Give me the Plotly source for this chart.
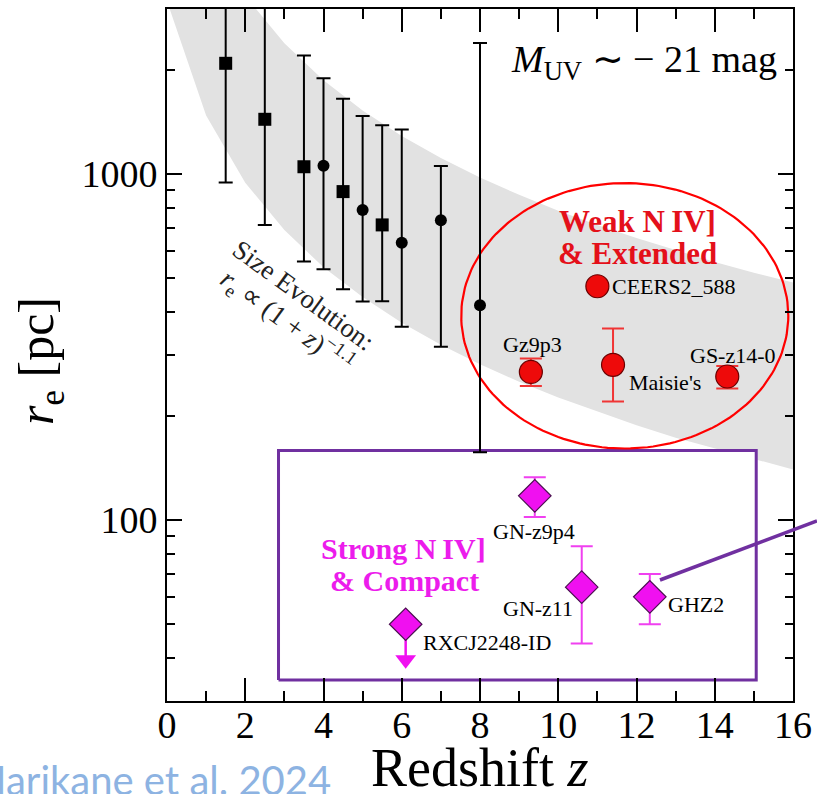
import plotly.graph_objects as go
import numpy as np

# ---------------- data ----------------
# black reference points (M_UV ~ -21 size evolution)
sq_z = [1.5, 2.5, 3.5, 4.5, 5.5]
sq_r = [2090, 1440, 1050, 890, 713]
sq_hi = [4000, 3800, 2200, 1650, 1385]
sq_lo = [946, 713, 559, 465, 429]

ci_z = [4.0, 5.0, 6.0, 7.0, 8.0]
ci_r = [1057, 787, 633, 736, 418]
ci_hi = [1893, 1471, 1346, 1055, 2393]
ci_lo = [531, 428, 362, 317, 157]

# weak N IV] & extended (red)
red_names = ["CEERS2_588", "Gz9p3", "Maisie's", "GS-z14-0"]
red_z = [11.0, 9.3, 11.4, 14.32]
red_r = [474, 268, 281, 260]
red_hi = [474, 293, 358, 279]
red_lo = [474, 244, 220, 240]

# strong N IV] & compact (magenta)
mag_names = ["GN-z9p4", "GN-z11", "GHZ2"]
mag_z = [9.4, 10.6, 12.34]
mag_r = [117.5, 64, 60]
mag_hi = [133, 84, 69.8]
mag_lo = [102, 44, 50]

# upper limit
lim_name = "RXCJ2248-ID"
lim_z = 6.1
lim_r = 50

# size-evolution band r_e ∝ (1+z)^-1.1 (edges)
band_z = [0, 1, 2, 3, 4, 5, 6, 7, 8, 9, 10, 11, 12, 13, 14, 15, 16]
band_hi = [10965, 5117, 3273, 2388, 1866, 1527, 1289, 1113, 977, 871, 784, 713, 653, 602, 557, 519, 486]
band_lo = [3162, 1476, 944, 689, 538, 441, 372, 321, 282, 251, 226, 206, 188, 173, 161, 150, 140]

x_ticks = [0, 2, 4, 6, 8, 10, 12, 14, 16]
y_ticks = [100, 1000]
y_minor = [30, 40, 50, 60, 70, 80, 90, 200, 300, 400, 500, 600, 700, 800, 900, 2000, 3000]

# ---------------- style ----------------
SERIF = "Liberation Serif"
RED = "#EE0A0A"
MAG = "#F010F0"
PURPLE = "#7030A0"
W, H = 817, 794
L, R, T, B = 167, 24, 9, 93
PW, PH = W - L - R, H - T - B


def paper(px, py):
    return (px - L) / PW, (H - B - py) / PH


fig = go.Figure()

# band
fig.add_trace(go.Scatter(
    x=band_z + band_z[::-1], y=band_hi + band_lo[::-1],
    fill="toself", fillcolor="#E2E2E2", line=dict(width=0),
    mode="lines", hoverinfo="skip", showlegend=False))

# purple box (white filled)
bx0, bx1, by0, by1 = 2.85, 15.06, 34.5, 159
fig.add_trace(go.Scatter(
    x=[bx0, bx1, bx1, bx0, bx0], y=[by0, by0, by1, by1, by0],
    fill="toself", fillcolor="white", mode="lines",
    line=dict(color=PURPLE, width=3), hoverinfo="skip", showlegend=False))

# red ellipse outline (in z / log r space)
ex0, ex1, ey0, ey1 = 7.52, 15.88, np.log10(161), np.log10(942)
t = np.linspace(0, 2 * np.pi, 181)
fig.add_trace(go.Scatter(
    x=(ex0 + ex1) / 2 + (ex1 - ex0) / 2 * np.cos(t),
    y=10 ** ((ey0 + ey1) / 2 + (ey1 - ey0) / 2 * np.sin(t)),
    mode="lines", line=dict(color="#FF0000", width=2.2),
    hoverinfo="skip", showlegend=False))


def err(vals, hi, lo):
    return ([h - v for v, h in zip(vals, hi)], [v - l for v, l in zip(vals, lo)])


up, dn = err(sq_r, sq_hi, sq_lo)
fig.add_trace(go.Scatter(
    x=sq_z, y=sq_r, mode="markers",
    marker=dict(symbol="square", size=13, color="black"),
    error_y=dict(type="data", symmetric=False, array=up, arrayminus=dn,
                 color="black", thickness=2, width=7),
    showlegend=False))

up, dn = err(ci_r, ci_hi, ci_lo)
fig.add_trace(go.Scatter(
    x=ci_z, y=ci_r, mode="markers",
    marker=dict(symbol="circle", size=12, color="black"),
    error_y=dict(type="data", symmetric=False, array=up, arrayminus=dn,
                 color="black", thickness=2, width=7),
    showlegend=False))

up, dn = err(red_r, red_hi, red_lo)
fig.add_trace(go.Scatter(
    x=red_z, y=red_r, mode="markers",
    marker=dict(symbol="circle", size=23, color=RED,
                line=dict(color="#6a0000", width=1.2)),
    error_y=dict(type="data", symmetric=False, array=up, arrayminus=dn,
                 color="#F03535", thickness=2, width=11),
    showlegend=False))

# upper-limit arrow
tip = lim_r * 0.79
fig.add_trace(go.Scatter(x=[lim_z, lim_z], y=[lim_r, tip], mode="lines",
                         line=dict(color=MAG, width=2.5), showlegend=False))
fig.add_trace(go.Scatter(x=[lim_z], y=[tip], mode="markers",
                         marker=dict(symbol="triangle-down", size=18, color=MAG),
                         showlegend=False))

up, dn = err(mag_r, mag_hi, mag_lo)
fig.add_trace(go.Scatter(
    x=mag_z + [lim_z], y=mag_r + [lim_r], mode="markers",
    marker=dict(symbol="diamond", size=25, color=MAG,
                line=dict(color="#4a1050", width=1.2)),
    error_y=dict(type="data", symmetric=False, array=up + [0], arrayminus=dn + [0],
                 color="#F040F0", thickness=2, width=11),
    showlegend=False))

ann = []
lab_font = dict(family=SERIF, size=22, color="black")
red_off = [(13, 0, "left"), (2, 27, "center"), (14, -18, "left"), (6, 21, "center")]
for n, zz, rr, (dx, dy, xa) in zip(red_names, red_z, red_r, red_off):
    ann.append(dict(x=zz, y=np.log10(rr), text=n, showarrow=False, xanchor=xa,
                    yanchor="middle", xshift=dx, yshift=dy, font=lab_font))
mag_off = [(-1, -36, "center"), (-7, -21, "right"), (16, -8, "left")]
for n, zz, rr, (dx, dy, xa) in zip(mag_names, mag_z, mag_r, mag_off):
    ann.append(dict(x=zz, y=np.log10(rr), text=n, showarrow=False, xanchor=xa,
                    yanchor="middle", xshift=dx, yshift=dy, font=lab_font))
ann.append(dict(x=lim_z, y=np.log10(lim_r), text=lim_name, showarrow=False,
                xanchor="left", yanchor="middle", xshift=15, yshift=-18, font=lab_font))


def pann(px, py, text, xanchor="center", yanchor="middle", **kw):
    x, y = paper(px, py)
    d = dict(x=x, y=y, xref="paper", yref="paper", text=text, showarrow=False,
             xanchor=xanchor, yanchor=yanchor)
    d.update(kw)
    ann.append(d)


pann(644, 62, "<i>M</i><sub>UV</sub> ∼ − 21 mag", font=dict(family=SERIF, size=38, color="black"))
bold_red = dict(family=SERIF, size=31, color="#E4101A", weight="bold")
pann(637, 221, "<b>Weak N\u2009IV]</b>", font=bold_red)
pann(637, 253, "<b>& Extended</b>", font=bold_red)
bold_mag = dict(family=SERIF, size=30, color="#EC1CEC", weight="bold")
pann(403, 548, "<b>Strong N\u2009IV]</b>", font=bold_mag)
pann(404, 580, "<b>& Compact</b>", font=bold_mag)
rot = dict(family=SERIF, size=27, color="#222222")
pann(303, 295, "Size Evolution:", textangle=36, font=rot)
pann(287, 321, "<i>r</i><sub>e</sub> ∝ (1 + <i>z</i>)<sup>−1.1</sup>", textangle=36, font=rot)
pann(333, 806, "Harikane et al. 2024", xanchor="right", yanchor="bottom",
     font=dict(family="Lato", size=40, color="#8DB3E2"))
# axis titles
pann(480, 768, "Redshift <i>z</i>", font=dict(family=SERIF, size=54, color="black"))
pann(40, 361, "<i>r</i><sub>e</sub> [pc]", textangle=-90,
     font=dict(family=SERIF, size=50, color="black"))

x0, y0 = paper(660, 580)
x1, y1 = paper(817, 521)
shapes = [
    dict(type="line", xref="paper", yref="paper", x0=x0, y0=y0, x1=x1, y1=y1,
         line=dict(color=PURPLE, width=3.5)),
]

axis_common = dict(showline=True, linecolor="black", linewidth=2, mirror="allticks",
                   ticks="inside", tickcolor="black", showgrid=False, zeroline=False,
                   automargin=False, layer="above traces",
                   tickfont=dict(family=SERIF, size=38, color="black"))

fig.update_layout(
    width=W, height=H, autosize=False,
    margin=dict(l=L, r=R, t=T, b=B),
    plot_bgcolor="white", paper_bgcolor="white",
    showlegend=False, annotations=ann, shapes=shapes,
    xaxis=dict(range=[0, 16], tickvals=x_ticks, ticklen=23, tickwidth=2,
               ticklabelstandoff=-11,
               minor=dict(dtick=1, ticks="inside", ticklen=10, tickwidth=2, tickcolor="black"),
               **axis_common),
    yaxis=dict(type="log", range=[np.log10(30), np.log10(3000)], tickvals=y_ticks,
               ticktext=[str(v) for v in y_ticks], ticklen=15, tickwidth=2,
               minor=dict(tickvals=y_minor, ticks="inside", ticklen=8, tickwidth=2, tickcolor="black"),
               **axis_common),
)

fig.write_html("out.html")
